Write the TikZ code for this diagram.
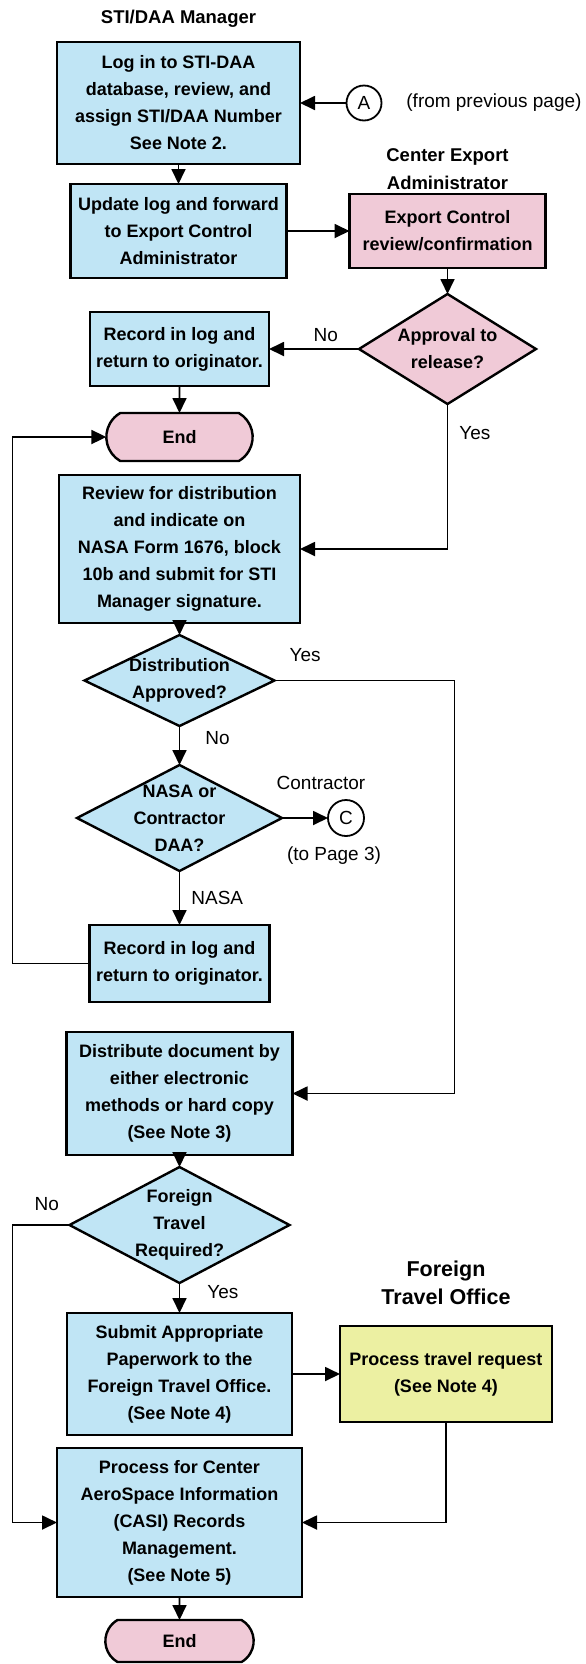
\documentclass[tikz,border=0pt]{standalone}
\usepackage{fontspec}
\setmainfont{Liberation Sans}
\usepackage{tikz}
\usetikzlibrary{positioning}
\usetikzlibrary{shapes.geometric}
\usetikzlibrary{shapes.misc}
\usetikzlibrary{arrows.meta}
\definecolor{stiblue}{RGB}{192,229,245}
\definecolor{expink}{RGB}{240,202,215}
\definecolor{ftoyellow}{RGB}{236,240,162}

\begin{document}
\begin{tikzpicture}
[
proc/.style={rectangle, draw, fill=stiblue, line width=1.20mm, outer sep=0pt, inner sep=0pt, align=center, font=\bfseries\fontsize{25.6}{38.4}\selectfont},
decide/.style={diamond, draw, fill=stiblue, line width=1.20mm, outer sep=0pt, inner sep=-8mm, align=center, font=\bfseries\fontsize{25.6}{38.4}\selectfont},
term/.style={rounded rectangle, rounded rectangle arc length=120, draw, fill=expink, line width=1.20mm, outer sep=0pt, font=\bfseries\fontsize{25.6}{38.4}\selectfont},
conn/.style={circle, draw, line width=0.90mm, outer sep=0pt, inner sep=0pt, minimum size=17.50mm, font=\fontsize{27}{32}\selectfont},
text-h/.style={black, inner sep=0pt, align=center, font=\bfseries\fontsize{26.3}{39.8}\selectfont},
text-a/.style={black, inner sep=0.50mm, font=\fontsize{27}{32}\selectfont},
>={Triangle[length=7.50mm, width=7.00mm]},
line width=0.90mm,
]
\useasboundingbox (0,0) rectangle (293.00mm,-832.00mm);
\node (box1)    [proc, minimum width=121.50mm, minimum height=61.00mm] at (89.25mm,-51.50mm) {Log in to STI-DAA\\database, review, and\\assign STI/DAA Number\\See Note 2.};
\node (mgr)     [text-h, above = 7.00mm of box1]                                {STI/DAA Manager};
\node (ca)      [conn, right = 23.25mm of box1]                                 {A};
\node (cal)     [text-a, inner sep=0pt, right = 12.00mm of ca]                  {(from previous page)};
\node (box2)    [proc, minimum width=108.00mm, minimum height=47.00mm, below = 10.00mm of box1] {Update log and forward\\to Export Control\\Administrator};
\node (expc)    [proc, fill=expink, minimum width=98.00mm, minimum height=37.00mm, right = 31.50mm of box2] {Export Control\\review/confirmation};
\node (cea)     [text-h, above = 1.50mm of expc]                                {Center Export\\Administrator};
\node (appr)    [decide, fill=expink, minimum width=88.50mm, minimum height=55.00mm, below = 13.00mm of expc] {Approval to\\release?};
\node (rec1)    [proc, minimum width=89.50mm, minimum height=37.00mm, left = 45.00mm of appr] {Record in log and\\return to originator.};
\node (end1)    [term, minimum width=75.50mm, minimum height=24.00mm, below = 13.50mm of rec1] {End};
\node (review)  [proc, minimum width=120.50mm, minimum height=74.00mm, below = 7.00mm of end1] {Review for distribution\\and indicate on\\NASA Form 1676, block\\10b and submit for STI\\Manager signature.};
\node (dist)    [decide, minimum width=95.00mm, minimum height=45.50mm, below = 6.00mm of review] {Distribution\\Approved?};
\node (nasa)    [decide, minimum width=102.50mm, minimum height=53.00mm, below = 19.50mm of dist] {NASA or\\Contractor\\DAA?};
\node (cc)      [conn, minimum size=18.00mm, right = 23.00mm of nasa]          {C};
\node (ccl)     [text-a, above = 4.00mm of cc, xshift=-12.50mm]                 {Contractor};
\node (ccp)     [text-a, below = 4.50mm of cc, xshift=-6.00mm]                  {(to Page 3)};
\node (rec2)    [proc, minimum width=90.00mm, minimum height=38.50mm, below = 27.00mm of nasa] {Record in log and\\return to originator.};
\node (distrib) [proc, minimum width=113.00mm, minimum height=61.50mm, below = 15.00mm of rec2] {Distribute document by\\either electronic\\methods or hard copy\\(See Note 3)};
\node (foreign) [decide, minimum width=110.00mm, minimum height=58.00mm, below = 6.00mm of distrib] {Foreign\\Travel\\Required?};
\node (submit)  [proc, minimum width=112.50mm, minimum height=61.00mm, below = 15.00mm of foreign] {Submit Appropriate\\Paperwork to the\\Foreign Travel Office.\\(See Note 4)};
\node (travel)  [proc, fill=ftoyellow, minimum width=106.00mm, minimum height=48.00mm, right = 24.00mm of submit] {Process travel request\\(See Note 4)};
\node (fto)     [text-h, font=\bfseries\fontsize{30.6}{39.8}\selectfont, above = 10.00mm of travel] {Foreign\\Travel Office};
\node (casi)    [proc, minimum width=122.50mm, minimum height=74.50mm, below = 6.50mm of submit] {Process for Center\\AeroSpace Information\\(CASI) Records\\Management.\\(See Note 5)};
\node (end2)    [term, minimum width=76.50mm, minimum height=21.00mm, below = 11.50mm of casi] {End};
\draw [->]   (ca) -- (box1);
\draw [->]   (box1) -- (box2);
\draw [->]   (box2) -- (expc);
\draw [->]   (expc) -- (appr);
\draw [->]   (appr) -- node [text-a, above = 2.50mm, pos=0.37] (noa) {No} (rec1);
\draw [->]   (rec1) -- (end1);
\draw [->]   (appr) |- node [text-a, right = 5.00mm, pos=0.10] (yesa) {Yes} (review);
\draw [->]   (review) -- (dist);
\draw [->]   (dist.east) -- node [text-a, above = 8.50mm, pos=0.17] (yesb) {Yes} ++(90.00mm,0) |- (distrib.east);
\draw [->]   (dist) -- node [text-a, right = 12.00mm, pos=0.30] (nob) {No} (nasa);
\draw [->]   (nasa) -- (cc);
\draw [->]   (nasa) -- node [text-a, right = 5.00mm] (nasal) {NASA} (rec2);
\draw [->]   (rec2.west) -- ++(-38.50mm,0) |- (end1.west);
\draw [->]   (distrib) -- (foreign);
\draw [->]   (foreign.west) -- node [text-a, above = 6.00mm, pos=0.40] (noc) {No} ++(-28.50mm,0) |- (casi.west);
\draw [->]   (foreign) -- node [text-a, right = 13.00mm, pos=0.30] (yesc) {Yes} (submit);
\draw [->]   (submit) -- (travel);
\draw [->]   (travel) |- (casi);
\draw [->]   (casi) -- (end2);
\end{tikzpicture}
\end{document}
